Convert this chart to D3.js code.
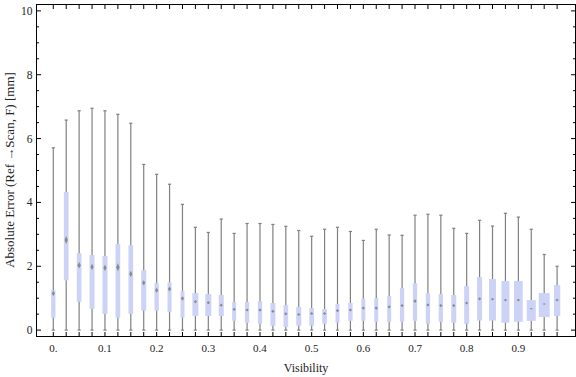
<!DOCTYPE html>
<html>
<head>
<meta charset="utf-8">
<script src="https://cdn.jsdelivr.net/npm/d3@7"></script>
<style>
  body { margin: 0; background: #fff; }
  svg { display: block; }
  .lbl { font-family: "Liberation Serif", "Times New Roman", serif; fill: #222; }
</style>
</head>
<body>
<svg id="chart" width="576" height="377"></svg>
<script>
// visibility bins (box centres)
var visibility = [0, 0.025, 0.05, 0.075, 0.1, 0.125, 0.15, 0.175, 0.2, 0.225,
  0.25, 0.275, 0.3, 0.325, 0.35, 0.375, 0.4, 0.425, 0.45, 0.475,
  0.5, 0.525, 0.55, 0.575, 0.6, 0.625, 0.65, 0.675, 0.7, 0.725,
  0.75, 0.775, 0.8, 0.825, 0.85, 0.875, 0.9, 0.925, 0.95, 0.975];

var whiskerLow = [0, 0, 0, 0, 0, 0, 0, 0, 0, 0, 0, 0, 0, 0, 0, 0, 0, 0, 0, 0,
  0, 0, 0, 0, 0, 0, 0, 0, 0, 0, 0, 0, 0, 0, 0, 0, 0, 0, 0, 0];
var q1 = [0.39, 1.56, 0.89, 0.67, 0.51, 0.39, 0.51, 0.61, 0.61, 0.56,
  0.39, 0.44, 0.44, 0.44, 0.29, 0.23, 0.20, 0.14, 0.10, 0.14,
  0.14, 0.20, 0.23, 0.29, 0.29, 0.26, 0.26, 0.26, 0.29, 0.20,
  0.26, 0.23, 0.20, 0.30, 0.30, 0.23, 0.26, 0.29, 0.41, 0.44];
var median = [1.15, 2.82, 2.03, 1.98, 1.95, 1.97, 1.76, 1.48, 1.25, 1.29,
  0.99, 0.89, 0.86, 0.78, 0.65, 0.63, 0.63, 0.59, 0.51, 0.49,
  0.52, 0.52, 0.61, 0.63, 0.69, 0.69, 0.73, 0.77, 0.91, 0.79,
  0.77, 0.77, 0.85, 0.98, 0.97, 0.94, 0.94, 0.67, 0.82, 0.94];
var q3 = [1.25, 4.33, 2.41, 2.35, 2.32, 2.70, 2.66, 1.88, 1.47, 1.50,
  1.22, 1.16, 1.13, 1.10, 0.88, 0.88, 0.91, 0.85, 0.78, 0.72,
  0.69, 0.66, 0.82, 0.85, 0.99, 1.00, 1.07, 1.32, 1.47, 1.16,
  1.13, 1.10, 1.38, 1.66, 1.60, 1.54, 1.54, 0.94, 1.16, 1.41];
var whiskerHigh = [5.71, 6.58, 6.87, 6.95, 6.87, 6.76, 6.48, 5.19, 4.88, 4.57,
  3.94, 3.22, 3.06, 3.48, 3.03, 3.34, 3.34, 3.31, 3.25, 3.12,
  2.94, 3.16, 3.22, 3.09, 2.81, 3.16, 2.98, 2.97, 3.60, 3.63,
  3.60, 3.19, 3.03, 3.44, 3.26, 3.66, 3.54, 3.16, 2.37, 2.00];
// median confidence half-range (drawn as the diamond)
var medianCI = [0.08, 0.125, 0.1, 0.1, 0.1, 0.125, 0.1, 0.08, 0.08, 0.08,
  0.07, 0.05, 0.05, 0.05, 0.05, 0.05, 0.05, 0.05, 0.05, 0.05,
  0.05, 0.05, 0.05, 0.05, 0.05, 0.05, 0.05, 0.05, 0.06, 0.05,
  0.05, 0.05, 0.05, 0.05, 0.04, 0.04, 0.04, 0.02, 0.02, 0.04];
// relative bin weight (box width)
var binWeight = [43, 47, 47, 50, 50, 47, 47, 50, 43, 40,
  40, 60, 60, 50, 40, 43, 43, 50, 47, 50,
  47, 47, 40, 43, 40, 40, 40, 43, 43, 43,
  43, 50, 50, 50, 70, 80, 87, 90, 110, 63];

var xTickValues = [0, 0.1, 0.2, 0.3, 0.4, 0.5, 0.6, 0.7, 0.8, 0.9];
var yTickValues = [0, 2, 4, 6, 8, 10];

(function() {
  var data = visibility.map(function(v, i) {
    return { v: v, lo: whiskerLow[i], q1: q1[i], med: median[i], q3: q3[i],
             hi: whiskerHigh[i], ci: medianCI[i], w: binWeight[i] };
  });

  var svg = d3.select('#chart');
  var pLeft = 36.5, pRight = 575.5, pTop = 4.5, pBottom = 336.5;

  var x = d3.scaleLinear().domain([-0.0325, 1.0106]).range([pLeft, pRight]);
  var y = d3.scaleLinear().domain([-0.2, 10.2]).range([pBottom, pTop]);
  var wScale = d3.scaleLinear().domain([0, 110]).range([0, 11]);

  var whiskerColor = '#808080';
  var boxColor = '#ccd3f6';

  // whiskers
  var g = svg.append('g');
  g.selectAll('line.whisker').data(data).enter().append('line')
    .attr('x1', function(d) { return x(d.v); })
    .attr('x2', function(d) { return x(d.v); })
    .attr('y1', function(d) { return y(d.lo); })
    .attr('y2', function(d) { return y(d.hi); })
    .attr('stroke', whiskerColor).attr('stroke-width', 1.2);

  ['lo', 'hi'].forEach(function(k) {
    g.selectAll('line.cap-' + k).data(data).enter().append('line')
      .attr('x1', function(d) { return x(d.v) - 1.6; })
      .attr('x2', function(d) { return x(d.v) + 1.6; })
      .attr('y1', function(d) { return y(d[k]); })
      .attr('y2', function(d) { return y(d[k]); })
      .attr('stroke', whiskerColor).attr('stroke-width', 1.2);
  });

  // boxes
  g.selectAll('rect.box').data(data).enter().append('rect')
    .attr('x', function(d) { return x(d.v) - wScale(d.w) / 2; })
    .attr('width', function(d) { return wScale(d.w); })
    .attr('y', function(d) { return y(d.q3); })
    .attr('height', function(d) { return y(d.q1) - y(d.q3); })
    .attr('fill', boxColor);

  // median diamonds
  g.selectAll('path.med').data(data).enter().append('path')
    .attr('d', function(d) {
      var cx = x(d.v), cy = y(d.med);
      var h = Math.max(y(d.med - d.ci) - cy, 0.8);
      return 'M' + (cx - 1.6) + ',' + cy + 'L' + cx + ',' + (cy - h) +
        'L' + (cx + 1.6) + ',' + cy + 'L' + cx + ',' + (cy + h) + 'Z';
    })
    .attr('fill', '#8a8a8a');

  // frame
  svg.append('rect')
    .attr('x', pLeft).attr('y', pTop)
    .attr('width', pRight - pLeft).attr('height', pBottom - pTop)
    .attr('fill', 'none').attr('stroke', '#000').attr('stroke-width', 1);

  // bottom & top ticks at every bin
  var frame = svg.append('g').attr('stroke', '#000').attr('stroke-width', 1);
  frame.selectAll('line.bt').data(visibility).enter().append('line')
    .attr('x1', function(d) { return x(d); }).attr('x2', function(d) { return x(d); })
    .attr('y1', pBottom).attr('y2', pBottom - 4.5);
  frame.selectAll('line.tt').data(visibility).enter().append('line')
    .attr('x1', function(d) { return x(d); }).attr('x2', function(d) { return x(d); })
    .attr('y1', pTop).attr('y2', pTop + 4.5);

  // left & right ticks
  var yAll = d3.range(0, 10.01, 0.5);
  frame.selectAll('line.lt').data(yAll).enter().append('line')
    .attr('x1', pLeft)
    .attr('x2', function(d) { return pLeft + (d % 2 === 0 ? 4.5 : 2.5); })
    .attr('y1', function(d) { return y(d); }).attr('y2', function(d) { return y(d); });
  frame.selectAll('line.rt').data(yAll).enter().append('line')
    .attr('x1', pRight)
    .attr('x2', function(d) { return pRight - (d % 2 === 0 ? 4.5 : 2.5); })
    .attr('y1', function(d) { return y(d); }).attr('y2', function(d) { return y(d); });

  // tick labels
  svg.selectAll('text.xt').data(xTickValues).enter().append('text')
    .attr('class', 'lbl')
    .attr('x', function(d) { return x(d); })
    .attr('y', 352)
    .attr('text-anchor', 'middle')
    .style('font-size', '11px')
    .text(function(d) { return d === 0 ? '0.' : d3.format('.1f')(d); });

  svg.selectAll('text.yt').data(yTickValues).enter().append('text')
    .attr('class', 'lbl')
    .attr('x', 32.5)
    .attr('y', function(d) { return y(d); })
    .attr('dy', '0.35em')
    .attr('text-anchor', 'end')
    .style('font-size', '11.5px')
    .text(function(d) { return d; });

  // axis titles
  svg.append('text').attr('class', 'lbl')
    .attr('x', 306).attr('y', 372)
    .attr('text-anchor', 'middle')
    .style('font-size', '12px')
    .text('Visibility');

  svg.append('text').attr('class', 'lbl')
    .attr('transform', 'translate(14,170) rotate(-90)')
    .attr('text-anchor', 'middle')
    .style('font-size', '13px')
    .text('Absolute Error (Ref \u2192Scan, F) [mm]');
})();
</script>
</body>
</html>
